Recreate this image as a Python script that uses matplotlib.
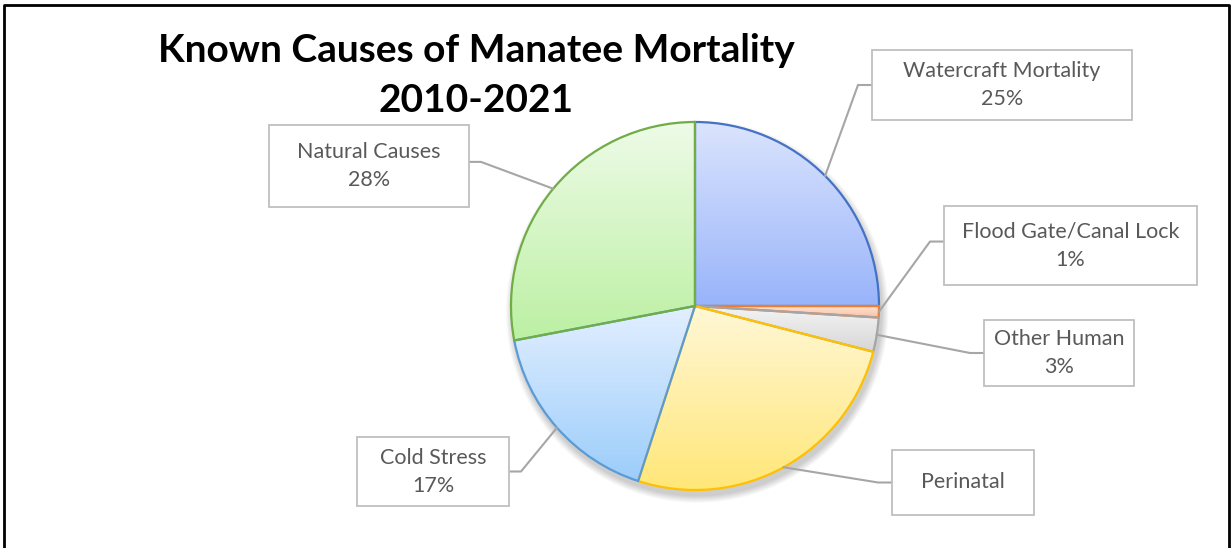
import numpy as np
import matplotlib
matplotlib.use("Agg")
import matplotlib.pyplot as plt
from matplotlib.patches import Rectangle, Circle
from matplotlib.colors import LinearSegmentedColormap
from matplotlib.lines import Line2D

# mortality shares, 2010-2021
causes = ['Watercraft Mortality', 'Flood Gate/Canal Lock', 'Other Human',
          'Perinatal', 'Cold Stress', 'Natural Causes']
shares = [25, 1, 3, 26, 17, 28]
show_pct = [True, True, True, False, True, True]

# gradient (top, bottom) and edge colours for each wedge
top_cols = ['#dbe4fd', '#fde3d6', '#f4f4f4', '#fff7d6', '#e2efff', '#eefbe8']
bot_cols = ['#98b4fa', '#fbbf9f', '#d6d6d6', '#ffe778', '#9ccdfb', '#bcf0a3']
edge_cols = ['#4472c4', '#ed7d31', '#a5a5a5', '#ffc000', '#5b9bd5', '#70ad47']

W, H = 1231, 548
fig = plt.figure(figsize=(W / 100, H / 100), dpi=100)

# pie centre and radius in pixels
cx, cy, R = 695, 306, 184
ax = fig.add_axes([0, 0, 1, 1])
ax.set_aspect('equal')
ax.axis('off')


def px(x, y):
    # pixel (from top-left) -> figure fraction
    return x / W, 1 - y / H


# soft drop shadow under the pie
for k in range(10):
    ax.add_patch(Circle((0.012, -0.03), 1.0 + 0.004 * (10 - k), color='black',
                        alpha=0.018, lw=0, zorder=1))

wedges, _ = ax.pie(shares, startangle=90, counterclock=False, radius=1,
                   wedgeprops=dict(linewidth=1.6))

for w, t, b, e in zip(wedges, top_cols, bot_cols, edge_cols):
    w.set_facecolor('none')
    w.set_edgecolor(e)
    w.set_zorder(4)
    ext = w.get_path().get_extents()
    ymin = max(ext.y0, -1)
    ymax = min(ext.y1, 1)
    cmap = LinearSegmentedColormap.from_list('g', [b, t])
    grad = np.linspace(0, 1, 256).reshape(-1, 1)
    im = ax.imshow(grad, cmap=cmap, origin='lower', aspect='auto',
                   extent=[-1, 1, ymin, ymax], zorder=3)
    im.set_clip_path(w.get_path(), transform=w.get_transform())

ax.set_xlim(-cx / R, (W - cx) / R)
ax.set_ylim(-(H - cy) / R, cy / R)

# label boxes: left, top, width, height in pixels
boxes = [(872, 50, 260, 70), (944, 206, 253, 79), (984, 320, 150, 66),
         (892, 450, 142, 65), (357, 437, 152, 69), (269, 125, 200, 82)]

for w, name, val, pct, (bx, by, bw, bh) in zip(wedges, causes, shares, show_pct, boxes):
    x0, y0 = px(bx, by + bh)
    fig.patches.append(Rectangle((x0, y0), bw / W, bh / H, transform=fig.transFigure,
                                 facecolor='white', edgecolor='#bfbfbf', lw=1.3, zorder=5))
    label = f'{name}\n{val}%' if pct else name
    tx, ty = px(bx + bw / 2, by + bh / 2)
    fig.text(tx, ty, label, ha='center', va='center', fontsize=15.5, family='Lato',
             color='#595959', linespacing=1.5, zorder=6)

    # leader line from wedge mid-angle to the box side
    ang = np.deg2rad((w.theta1 + w.theta2) / 2)
    ex, ey = ax.transData.transform((np.cos(ang), np.sin(ang)))
    ey = H - ey
    side = bx if bx > cx else bx + bw
    elbow = side - 14 if bx > cx else side + 12
    my = by + bh / 2 if bh < 75 else by + bh * 0.45
    pts = [px(ex, ey), px(elbow, my), px(side, my)]
    fig.lines.append(Line2D([p[0] for p in pts], [p[1] for p in pts],
                            transform=fig.transFigure, color='#a6a6a6', lw=1.5, zorder=2))

fig.text(*px(476, 50), 'Known Causes of Manatee Mortality', ha='center', va='center',
         fontsize=28, fontweight='bold', family='Lato', color='black')
fig.text(*px(476, 101), '2010-2021', ha='center', va='center',
         fontsize=28, fontweight='bold', family='Lato', color='black')

# outer frame
fig.lines.append(Line2D([4 / W, 4 / W, 1229 / W, 1229 / W], [0, 1 - 5 / H, 1 - 5 / H, 0],
                        transform=fig.transFigure, color='black', lw=2))

fig.savefig('out.png', dpi=100, facecolor='white')
